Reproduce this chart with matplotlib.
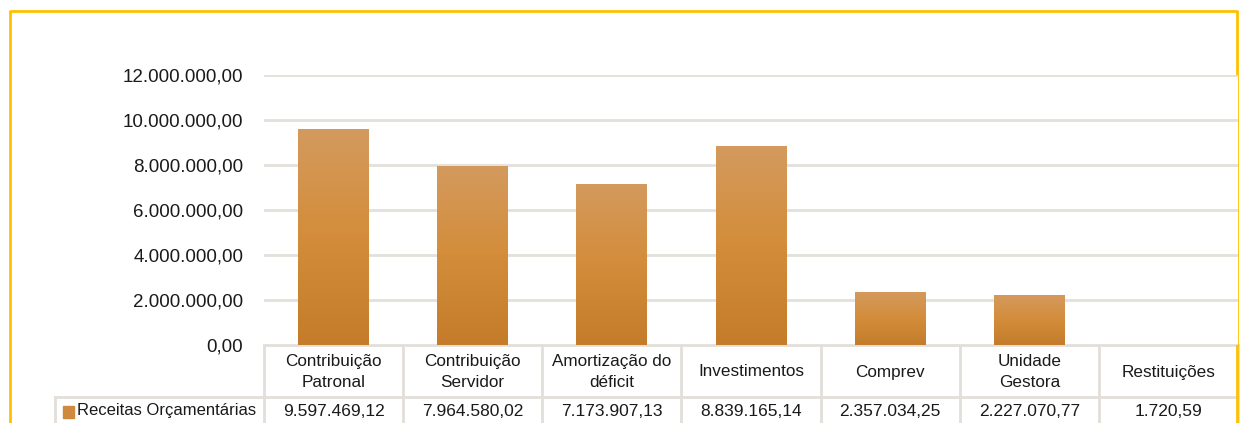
import numpy as np
import matplotlib.pyplot as plt
from matplotlib.colors import LinearSegmentedColormap
from matplotlib.patches import Rectangle

plt.rcParams['font.family'] = ['Liberation Sans', 'DejaVu Sans']

# Data
categories = ["Contribuição\nPatronal", "Contribuição\nServidor", "Amortização do\ndéficit",
              "Investimentos", "Comprev", "Unidade\nGestora", "Restituições"]
values = [9597469.12, 7964580.02, 7173907.13, 8839165.14, 2357034.25, 2227070.77, 1720.59]
series_name = "Receitas Orçamentárias"
yticks = [0, 2000000, 4000000, 6000000, 8000000, 10000000, 12000000]


def br(v):
    # Brazilian number format: 1.234.567,89
    s = f"{v:,.2f}"
    return s.replace(",", "X").replace(".", ",").replace("X", ".")


W, H = 1240, 423
fig = plt.figure(figsize=(W / 100, H / 100), dpi=100)

# overlay axes in pixel coordinates for border and table
ov = fig.add_axes([0, 0, 1, 1])
ov.set_xlim(0, W)
ov.set_ylim(H, 0)
ov.axis("off")

# chart area in pixels
left, right, top, bottom = 264, 1238, 75, 345
ax = fig.add_axes([left / W, 1 - bottom / H, (right - left) / W, (bottom - top) / H])
n = len(categories)
ax.set_yticks(yticks)
ax.set_yticklabels([br(t) for t in yticks], fontsize=13.5, color="#1a1a1a")
ax.tick_params(axis="y", length=0, pad=15)
for s in ax.spines.values():
    s.set_visible(False)
ax.grid(axis="y", color="#E4E0DC", linewidth=2)
ax.set_axisbelow(True)

# bars with a vertical gradient, clipped to each bar shape
cmap = LinearSegmentedColormap.from_list("bar", ["#C47C2A", "#D38D3A", "#D49A5E"])
grad = np.linspace(0, 1, 256).reshape(-1, 1)
bw = 0.51
bars = ax.bar(range(n), values, width=bw, color="none", edgecolor="none")
for b, v in zip(bars, values):
    x0 = b.get_x()
    im = ax.imshow(grad, cmap=cmap, origin="lower", aspect="auto",
                   extent=(x0, x0 + bw, 0, max(v, 1)), zorder=2)
    im.set_clip_path(b)
ax.set_xlim(-0.5, n - 0.5)
ax.set_ylim(0, 12000000)
ax.set_xticks([])

# table below chart
line_c = "#E2DED9"
colw = (right - left) / n
hdr_top, hdr_bot, row_bot = 345, 397, 440
tleft = 55
ov.plot([left, right], [hdr_top, hdr_top], color=line_c, lw=2)
ov.plot([tleft, right], [hdr_bot, hdr_bot], color=line_c, lw=2)
ov.plot([tleft, tleft], [hdr_bot, row_bot], color=line_c, lw=2)
for j in range(n + 1):
    x = left + j * colw
    ov.plot([x, x], [hdr_top, row_bot], color=line_c, lw=2)
for j, (c, v) in enumerate(zip(categories, values)):
    cx = left + (j + 0.5) * colw
    ov.text(cx, (hdr_top + hdr_bot) / 2 + 1, c, ha="center", va="center",
            fontsize=12.3, color="#1a1a1a", linespacing=1.55)
    ov.text(cx, 411, br(v), ha="center", va="center", fontsize=12.5, color="#1a1a1a")
ov.add_patch(Rectangle((63, 406), 11, 12, color="#D08A3E"))
ov.text(77, 411, series_name, ha="left", va="center", fontsize=12, color="#1a1a1a")

# yellow border
ov.plot([10, 10, 1237, 1237], [H + 5, 11, 11, H + 5], color="#FFC000", lw=2, clip_on=False)

fig.savefig("out.png", dpi=100)
